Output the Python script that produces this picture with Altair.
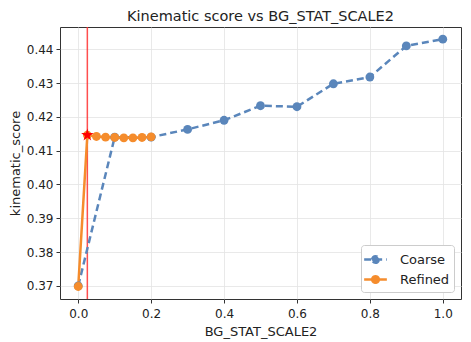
import altair as alt
import pandas as pd

coarse_x = [0.0, 0.1, 0.2, 0.3, 0.4, 0.5, 0.6, 0.7, 0.8, 0.9, 1.0]
coarse_y = [0.3700, 0.4140, 0.4140, 0.4163, 0.4190, 0.4233, 0.4230, 0.4298, 0.4318, 0.4410, 0.4430]
refined_x = [0.0, 0.025, 0.05, 0.075, 0.1, 0.125, 0.15, 0.175, 0.2]
refined_y = [0.3698, 0.4146, 0.4142, 0.4140, 0.4139, 0.4138, 0.4138, 0.4139, 0.4141]
best_x = [0.025]
best_y = [0.4146]
series_names = ["Coarse", "Refined"]
series_colors = ["#5a86bb", "#f58c2c"]
x_ticks = [0.0, 0.2, 0.4, 0.6, 0.8, 1.0]
y_ticks = [0.37, 0.38, 0.39, 0.40, 0.41, 0.42, 0.43, 0.44]

df = pd.DataFrame(
    {"x": coarse_x + refined_x,
     "y": coarse_y + refined_y,
     "series": ["Coarse"] * len(coarse_x) + ["Refined"] * len(refined_x)}
)
best = pd.DataFrame({"x": best_x, "y": best_y})

FONT = "DejaVu Sans"
xs = alt.Scale(domain=[-0.05, 1.05], nice=False, zero=False)
ys = alt.Scale(domain=[0.3661, 0.4466], nice=False, zero=False)
cs = alt.Scale(domain=series_names, range=series_colors)

x_enc = alt.X("x:Q", scale=xs, title="BG_STAT_SCALE2",
              axis=alt.Axis(values=x_ticks, format=".1f"))
y_enc = alt.Y("y:Q", scale=ys, title="kinematic_score",
              axis=alt.Axis(values=y_ticks, format=".2f", labelOverlap=False))

star_path = "M0,-1L0.2245,-0.309L0.951,-0.309L0.363,0.118L0.588,0.809L0,0.382L-0.588,0.809L-0.363,0.118L-0.951,-0.309L-0.2245,-0.309Z"
# line segment with a filled-looking dot (concentric rings) for the legend symbol
legend_sym = ("M-1.25,0L1.25,0"
              "M-0.36,0A0.36,0.36 0 1,1 0.36,0A0.36,0.36 0 1,1 -0.36,0"
              "M-0.23,0A0.23,0.23 0 1,1 0.23,0A0.23,0.23 0 1,1 -0.23,0"
              "M-0.1,0A0.1,0.1 0 1,1 0.1,0A0.1,0.1 0 1,1 -0.1,0")

leg = alt.Legend(title=None, orient="bottom-right", offset=7,
                 symbolType=legend_sym, symbolSize=330, symbolStrokeWidth=2.5,
                 labelFont=FONT, labelFontSize=13, labelColor="#222",
                 fillColor="white", strokeColor="#cccccc", padding=4, cornerRadius=3,
                 rowPadding=1, labelOffset=14)

vline = alt.Chart(best).mark_rule(color="#ff3030", strokeWidth=1.5, opacity=0.85).encode(x=x_enc)

lines = alt.Chart(df).mark_line(strokeWidth=2.5).encode(
    x=x_enc, y=y_enc,
    color=alt.Color("series:N", scale=cs, legend=leg),
    strokeDash=alt.StrokeDash("series:N", scale=alt.Scale(domain=series_names, range=[[7, 4], [1, 0]]), legend=None),
)

points = alt.Chart(df).mark_circle(size=78, opacity=1).encode(
    x=x_enc, y=y_enc,
    color=alt.Color("series:N", scale=cs, legend=leg),
)

star = alt.Chart(best).mark_point(shape=star_path, filled=True, color="#ff0000", size=170, opacity=1).encode(
    x=x_enc, y=y_enc
)

chart = alt.layer(vline, lines, points, star).properties(
    width=401, height=272,
    autosize=alt.AutoSizeParams(type="none"),
    padding={"left": 52, "top": 19, "right": 2, "bottom": 40},
    title=alt.Title("Kinematic score vs BG_STAT_SCALE2", font=FONT, fontSize=14.5,
                    fontWeight="normal", color="#222", offset=2),
).configure_view(stroke="#333", strokeWidth=1).configure_axis(
    labelFont=FONT, labelFontSize=12, labelColor="#222",
    titleFont=FONT, titleFontSize=13, titleFontWeight="normal", titleColor="#222",
    gridColor="#e3e3e3", gridWidth=0.8, domain=False,
    tickColor="#333", tickSize=4,
).configure_axisX(labelPadding=5, titlePadding=6).configure_axisY(titlePadding=4, labelPadding=3)

chart.save("out.html", embed_options={"renderer": "svg", "actions": False})
